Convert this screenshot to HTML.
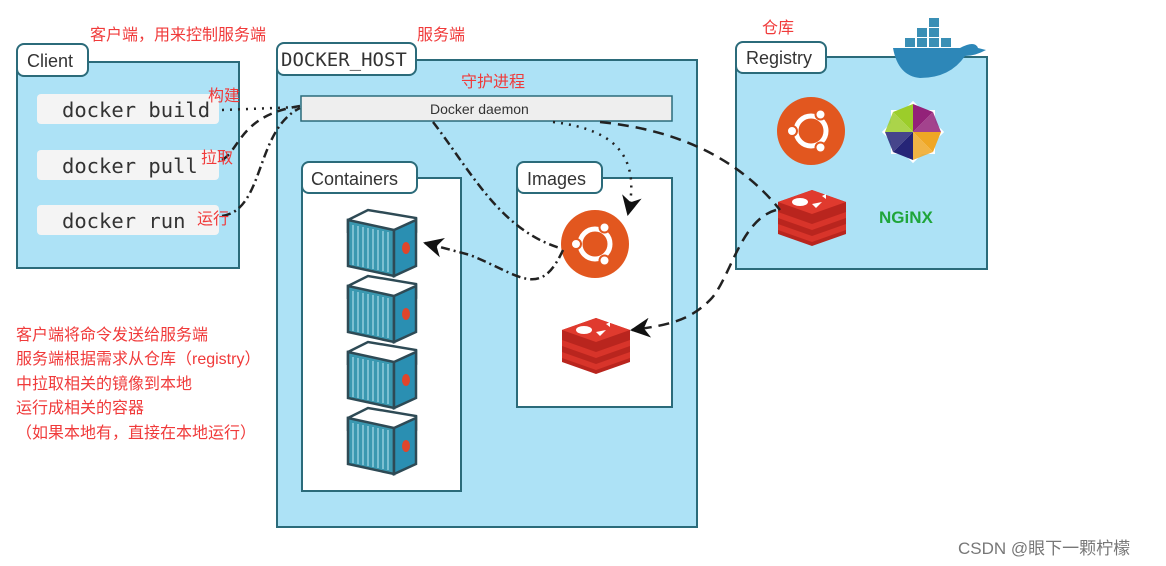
<!DOCTYPE html>
<html><head><meta charset="utf-8"><style>
html,body{margin:0;padding:0;background:#fff;width:1166px;height:566px;overflow:hidden}
svg text{font-family:"Liberation Sans","Noto Sans CJK SC",sans-serif}
.red{fill:#f03a3a;font-size:16px}
.mono{font-family:"DejaVu Sans Mono","Liberation Mono",monospace !important}
</style></head><body>
<svg width="1166" height="566" viewBox="0 0 1166 566" xmlns="http://www.w3.org/2000/svg">
<defs>
<g id="cont">
<polygon points="0,10 20,0 68,8 68,22 46,32 0,22" fill="#fff" stroke="#2e4a55" stroke-width="2.5"/>
<polygon points="0,10 46,20 46,66 0,56" fill="#3a98b0" stroke="#2e4a55" stroke-width="2.5"/>
<polygon points="46,20 68,10 68,56 46,66" fill="#2a8fb2" stroke="#2e4a55" stroke-width="2.5"/>
<g stroke="#a9dbe8" stroke-width="1.2">
<line x1="5" y1="15" x2="5" y2="55"/><line x1="10" y1="16" x2="10" y2="56"/><line x1="15" y1="17" x2="15" y2="57"/><line x1="20" y1="18" x2="20" y2="58"/><line x1="25" y1="19" x2="25" y2="59"/><line x1="30" y1="20" x2="30" y2="60"/><line x1="35" y1="21" x2="35" y2="61"/><line x1="40" y1="22" x2="40" y2="62"/></g>
<ellipse cx="58" cy="38" rx="4" ry="6" fill="#e0452b"/>
</g>
<g id="redis">
<path d="M0,12 L34,0 L68,12 L68,44 L34,56 L0,44Z" fill="#b9251e"/>
<path d="M0,12 L34,0 L68,12 L34,24Z" fill="#e03a2e"/>
<path d="M0,22 L34,34 L68,22 L68,28 L34,40 L0,28Z" fill="#d8342a"/>
<path d="M0,34 L34,46 L68,34 L68,40 L34,52 L0,40Z" fill="#d8342a"/>
<ellipse cx="22" cy="12" rx="8" ry="4" fill="#fff"/>
<polygon points="34,14 44,12 38,18" fill="#fff"/>
<polygon points="44,6 48,4 48,9" fill="#fff"/>
</g>
<g id="ubuntu">
<circle r="34" fill="#e2571f"/>
<circle r="15" fill="none" stroke="#fff" stroke-width="5"/>
<circle cx="-19" cy="0" r="5" fill="#fff" stroke="#e2571f" stroke-width="2"/>
<circle cx="9.5" cy="-16.5" r="5" fill="#fff" stroke="#e2571f" stroke-width="2"/>
<circle cx="9.5" cy="16.5" r="5" fill="#fff" stroke="#e2571f" stroke-width="2"/>
</g>
<marker id="ah" viewBox="0 0 10 10" refX="9" refY="5" markerWidth="8" markerHeight="8" markerUnits="userSpaceOnUse" orient="auto"><path d="M0,0 L10,5 L0,10 L3,5Z" fill="#111"/></marker>
<marker id="ah2" viewBox="0 0 10 10" refX="9" refY="5" markerWidth="20" markerHeight="20" markerUnits="userSpaceOnUse" orient="auto"><path d="M0,0 L10,5 L0,10 L3,5Z" fill="#111"/></marker>
</defs>

<!-- Client -->
<rect x="17" y="62" width="222" height="206" fill="#ade2f6" stroke="#2b6b7a" stroke-width="2"/>
<rect x="17" y="44" width="71" height="32" rx="7" fill="#fff" stroke="#2b6b7a" stroke-width="2"/>
<text x="27" y="67" font-size="18" fill="#333">Client</text>
<rect x="37" y="94" width="182" height="30" rx="4" fill="#f4f4f4"/>
<rect x="37" y="150" width="182" height="30" rx="4" fill="#f4f4f4"/>
<rect x="37" y="205" width="182" height="30" rx="4" fill="#f4f4f4"/>
<text class="mono" x="62" y="117" font-size="20.5" fill="#333">docker build</text>
<text class="mono" x="62" y="173" font-size="20.5" fill="#333">docker pull</text>
<text class="mono" x="62" y="228" font-size="20.5" fill="#333">docker run</text>

<!-- Docker host -->
<rect x="277" y="60" width="420" height="467" fill="#ade2f6" stroke="#2b6b7a" stroke-width="2"/>
<rect x="277" y="43" width="139" height="32" rx="7" fill="#fff" stroke="#2b6b7a" stroke-width="2"/>
<text class="mono" x="281" y="66" font-size="19" fill="#333">DOCKER_HOST</text>
<rect x="301" y="96" width="371" height="25" fill="#eeeeee" stroke="#2b6b7a" stroke-width="1.5"/>
<text x="430" y="114" font-size="14" fill="#333">Docker daemon</text>

<rect x="302" y="178" width="159" height="313" fill="#fff" stroke="#2b6b7a" stroke-width="2"/>
<rect x="302" y="162" width="115" height="31" rx="7" fill="#fff" stroke="#2b6b7a" stroke-width="2"/>
<text x="311" y="185" font-size="18" fill="#333">Containers</text>
<rect x="517" y="178" width="155" height="229" fill="#fff" stroke="#2b6b7a" stroke-width="2"/>
<rect x="517" y="162" width="85" height="31" rx="7" fill="#fff" stroke="#2b6b7a" stroke-width="2"/>
<text x="527" y="185" font-size="18" fill="#333">Images</text>

<use href="#cont" x="348" y="210"/>
<use href="#cont" x="348" y="276"/>
<use href="#cont" x="348" y="342"/>
<use href="#cont" x="348" y="408"/>
<use href="#ubuntu" x="595" y="244"/>
<use href="#redis" x="562" y="318"/>

<!-- Registry -->
<rect x="736" y="57" width="251" height="212" fill="#ade2f6" stroke="#2b6b7a" stroke-width="2"/>
<rect x="736" y="42" width="90" height="31" rx="7" fill="#fff" stroke="#2b6b7a" stroke-width="2"/>
<text x="746" y="64" font-size="18" fill="#333">Registry</text>
<g>
<path d="M893,48 L960,48 Q975,40 978,48 L986,50 Q975,56 965,56 Q950,78 920,78 Q898,76 893,48Z" fill="#2d87b8"/>
<rect x="905" y="38" width="10" height="9" fill="#3a8fb5"/><rect x="917" y="38" width="10" height="9" fill="#3a8fb5"/><rect x="929" y="38" width="10" height="9" fill="#3a8fb5"/><rect x="917" y="28" width="10" height="9" fill="#3a8fb5"/><rect x="929" y="28" width="10" height="9" fill="#3a8fb5"/><rect x="929" y="18" width="10" height="9" fill="#3a8fb5"/><rect x="941" y="38" width="10" height="9" fill="#3a8fb5"/>
</g>
<use href="#ubuntu" x="811" y="131"/>
<g transform="translate(913,132)">
<g transform="rotate(45)"><rect x="-22" y="-22" width="44" height="44" fill="#fff"/></g>
<rect x="-22" y="-22" width="44" height="44" fill="#fff"/>
<polygon points="0,0 0,-28 -20,-20" fill="#9ccd2a"/><polygon points="0,0 -20,-20 -28,0" fill="#9ccd2a" opacity=".85"/>
<polygon points="0,0 0,-28 20,-20" fill="#932279"/><polygon points="0,0 20,-20 28,0" fill="#932279" opacity=".85"/>
<polygon points="0,0 28,0 20,20" fill="#efa724"/><polygon points="0,0 20,20 0,28" fill="#efa724" opacity=".85"/>
<polygon points="0,0 0,28 -20,20" fill="#262577"/><polygon points="0,0 -20,20 -28,0" fill="#262577" opacity=".85"/>
</g>
<use href="#redis" x="778" y="190"/>
<text x="879" y="223" font-size="17" font-weight="bold" fill="#1fa53a">NGiNX</text>

<!-- connectors -->
<path d="M222,110 L300,107" fill="none" stroke="#222" stroke-width="2.5" stroke-dasharray="2,6"/>
<path d="M222,160 C240,150 240,115 300,106" fill="none" stroke="#222" stroke-width="2.5" stroke-dasharray="9,6"/>
<path d="M222,216 C265,210 255,130 300,108" fill="none" stroke="#222" stroke-width="2.5" stroke-dasharray="9,4,2,4"/>
<path d="M553,122 C620,130 640,160 628,214" fill="none" stroke="#222" stroke-width="2.5" stroke-dasharray="2,6" marker-end="url(#ah2)"/>
<path d="M433,122 C470,170 500,230 560,248" fill="none" stroke="#222" stroke-width="2.5" stroke-dasharray="9,4,2,4"/>
<path d="M563,250 C540,300 520,275 470,255 L425,243" fill="none" stroke="#222" stroke-width="2.5" stroke-dasharray="9,4,2,4" marker-end="url(#ah2)"/>
<path d="M600,122 C680,130 740,160 780,210" fill="none" stroke="#222" stroke-width="2.5" stroke-dasharray="11,7"/>
<path d="M776,210 C740,220 730,280 710,300 C690,320 670,325 632,330" fill="none" stroke="#222" stroke-width="2.5" stroke-dasharray="11,7" marker-end="url(#ah2)"/>

<!-- red labels -->
<text class="red" x="90" y="40">客户端，用来控制服务端</text>
<text class="red" x="417" y="40">服务端</text>
<text class="red" x="461" y="87">守护进程</text>
<text class="red" x="762" y="33">仓库</text>
<text class="red" x="208" y="101">构建</text>
<text class="red" x="201" y="163">拉取</text>
<text class="red" x="197" y="224">运行</text>
<text class="red" x="16" y="340">客户端将命令发送给服务端</text>
<text class="red" x="16" y="364">服务端根据需求从仓库（registry）</text>
<text class="red" x="16" y="389">中拉取相关的镜像到本地</text>
<text class="red" x="16" y="413">运行成相关的容器</text>
<text class="red" x="16" y="438">（如果本地有，直接在本地运行）</text>
<text x="958" y="554" font-size="17" fill="#777">CSDN @眼下一颗柠檬</text>
</svg>
</body></html>
